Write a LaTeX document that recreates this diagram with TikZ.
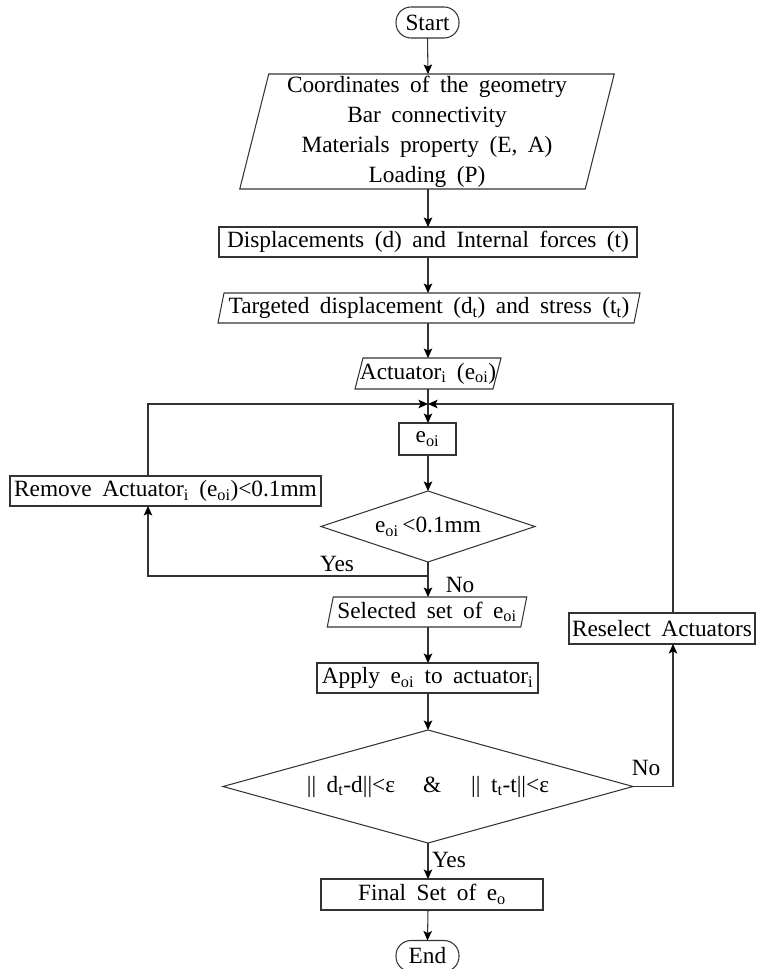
\documentclass[tikz,border=0pt]{standalone}
\usepackage{fontspec}
\setmainfont{Liberation Serif}[WordSpace=1.8]
\usetikzlibrary{arrows.meta,shapes.geometric}
\newcommand\paradraw[2]{\draw[ln] ([xshift=#2pt]#1.north west) -- ([xshift=#2pt]#1.north east) -- ([xshift=-#2pt]#1.south east) -- ([xshift=-#2pt]#1.south west) -- cycle;}
\begin{document}
\begin{tikzpicture}[x=1pt,y=-1pt,
  every node/.style={font=\fontsize{23.3}{30}\selectfont, inner sep=0pt, outer sep=0pt, text=black},
  ln/.style={draw=black!80, line width=1.05pt},
  arr/.style={ln, -{Stealth[length=9.5pt,width=8.5pt,inset=2pt,fill=black,color=black]}},
  boxn/.style={rectangle, ln},
  term/.style={rectangle, ln, rounded corners=15pt, minimum width=63pt, minimum height=31pt},
  parab/.style={rectangle},
  dia/.style={diamond, ln},
  lbl/.style={}]
\useasboundingbox (0,0) rectangle (757,969);
% nodes
\node[term] (start) at (427.5,22.5) {Start};
\node[parab, minimum width=345.5pt, minimum height=115pt, align=center] (p1) at (427,131.5)
  {Coordinates of the geometry\\Bar connectivity\\Materials property (E, A)\\Loading (P)};
\paradraw{p1}{14.5}
\node[boxn, minimum width=418pt, minimum height=30pt] (b2) at (428,242)
  {Displacements (d) and Internal forces (t)};
\node[parab, minimum width=416pt, minimum height=30pt] (p2) at (429,308)
  {Targeted displacement (d\textsubscript{t}) and stress (t\textsubscript{t})};
\paradraw{p2}{3}
\node[parab, minimum width=138pt, minimum height=31pt] (p3) at (428,373.5)
  {Actuator\textsubscript{i} (e\textsubscript{oi})};
\paradraw{p3}{4}
\coordinate (j) at (428,404);
\node[boxn, minimum width=57pt, minimum height=32pt] (eoi) at (427.5,439) {e\textsubscript{oi}};
\node[dia, aspect=3.01, minimum width=214pt, minimum height=71pt] (d1) at (428,526.5)
  {e\textsubscript{oi}\,<0.1mm};
\node[boxn, minimum width=311pt, minimum height=30pt] (rem) at (165.5,491)
  {Remove Actuator\textsubscript{i} (e\textsubscript{oi})<0.1mm};
\node[parab, minimum width=193.5pt, minimum height=30pt] (sel) at (427,612)
  {Selected set of e\textsubscript{oi}};
\paradraw{sel}{3}
\node[boxn, minimum width=221pt, minimum height=30pt] (app) at (427.5,678)
  {Apply e\textsubscript{oi} to actuator\textsubscript{i}};
\node[dia, aspect=3.63, minimum width=410pt, minimum height=113pt] (d2) at (428,786.5)
  {|| d\textsubscript{t}-d||<ε\hspace{28pt}\&\hspace{30pt}|| t\textsubscript{t}-t||<ε};
\node[boxn, minimum width=186pt, minimum height=31pt] (res) at (662,628.5)
  {Reselect Actuators};
\node[boxn, minimum width=222pt, minimum height=31pt] (fin) at (432,894.5)
  {Final Set of e\textsubscript{o}};
\node[term] (end) at (427.5,956) {End};
% labels
\node[lbl] (yes1) at (337,564) {Yes};
\node[lbl] (no1) at (460,585) {No};
\node[lbl] (no2) at (646,768) {No};
\node[lbl, anchor=west] (yes2) at (432,860) {Yes};
% helper coordinates
\coordinate (ysplit) at (428,576);
\coordinate (lx) at (148,0);
\coordinate (rx) at (673,0);
\coordinate (cx) at (428,0);
% connectors
\draw[arr] (start.south) -- (cx |- p1.north);
\draw[arr] (cx |- p1.south) -- (cx |- b2.north);
\draw[arr] (cx |- b2.south) -- (cx |- p2.north);
\draw[arr] (cx |- p2.south) -- (cx |- p3.north);
\draw[arr] (cx |- p3.south) -- (cx |- eoi.north);
\draw[arr] (cx |- eoi.south) -- (d1.north);
\draw[arr] (d1.south) -- (cx |- sel.north);
\draw[arr] (ysplit) -| (lx |- rem.south);
\draw[arr] (lx |- rem.north) |- (j);
\draw[arr] (cx |- sel.south) -- (cx |- app.north);
\draw[arr] (cx |- app.south) -- (d2.north);
\draw[arr] (d2.east) -| (rx |- res.south);
\draw[arr] (rx |- res.north) |- (j);
\draw[arr] (d2.south) -- (cx |- fin.north);
\draw[arr] (cx |- fin.south) -- (end.north);
\end{tikzpicture}
\end{document}
